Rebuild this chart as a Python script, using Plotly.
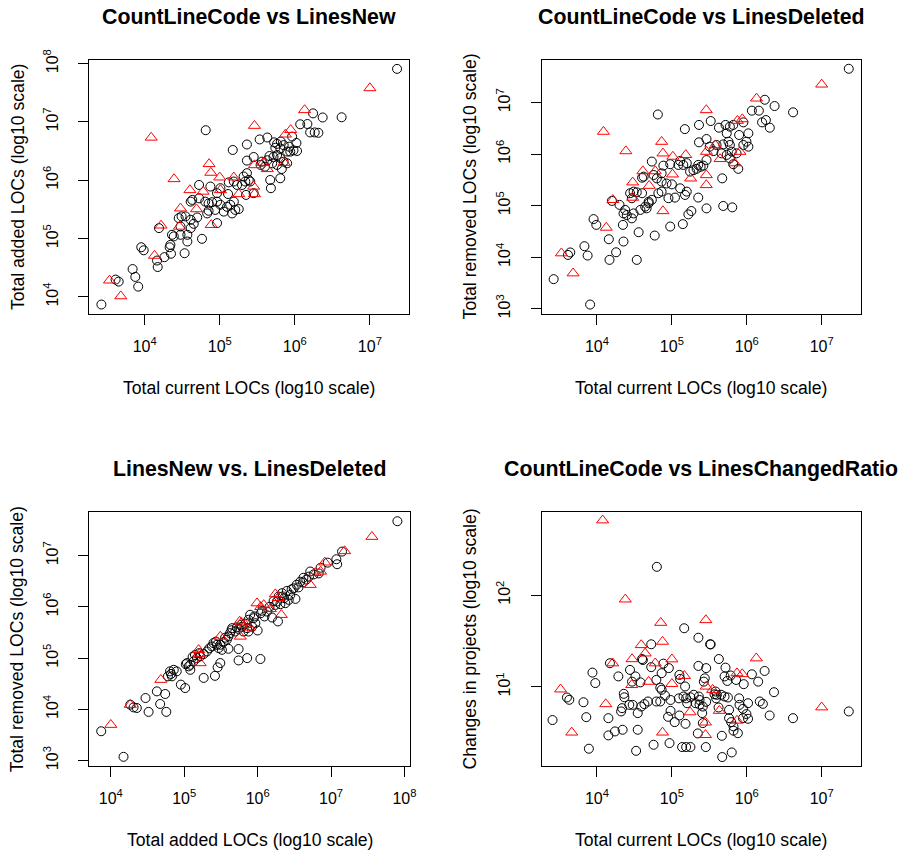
import plotly.graph_objects as go

W, H = 906, 857
FONT = "Liberation Sans, Arial, Helvetica, sans-serif"

titles = ["CountLineCode vs LinesNew", "CountLineCode vs LinesDeleted",
          "LinesNew vs. LinesDeleted", "CountLineCode vs LinesChangedRatio"]
x_labels = ["Total current LOCs (log10 scale)", "Total current LOCs (log10 scale)",
            "Total added LOCs (log10 scale)", "Total current LOCs (log10 scale)"]
y_labels = ["Total added LOCs (log10 scale)", "Total removed LOCs (log10 scale)",
            "Total removed LOCs (log10 scale)", "Changes in projects (log10 scale)"]
x_tick_exp = [[4, 5, 6, 7], [4, 5, 6, 7], [4, 5, 6, 7, 8], [4, 5, 6, 7]]
y_tick_exp = [[4, 5, 6, 7, 8], [3, 4, 5, 6, 7], [3, 4, 5, 6, 7], [1, 2]]

# ---------- Panel 1: CountLineCode vs LinesNew ----------
p1_black_x = [2.3e7, 4.2e6, 2.35e6, 1.75e6, 1.18e6, 1.47e6, 1.6e6, 1.84e6, 2.06e6, 9.2e5,
              4.3e5, 3.4e5, 2.3e5, 1.49e5, 6.5e4, 1.05e6, 8.4e5, 9.6e5, 1.07e6, 8.7e5,
              5.3e5, 5.8e5, 6.5e5, 7.1e5, 5.5e5, 6.4e5, 7.9e5, 2.83e5, 2.3e5, 3.65e5,
              4.3e5, 4.6e5, 5.2e5, 5.8e5, 6.4e5, 7.1e5, 5.0e5, 5.8e5, 6.7e5, 7.9e5,
              3.5e5, 4.0e5, 4.7e5, 4.8e5, 6.4e5, 2.3e5, 2.08e5, 2.43e5, 2.19e5, 2.55e5,
              1.98e5, 1.54e5, 1.32e5, 1.7e5, 2.24e5, 2.83e5, 5.3e4, 7.5e4, 1.02e5, 1.29e5,
              9.2e4, 4.3e4, 4.1e4, 5.3e4, 6.4e4, 7.1e4, 7.9e4, 9.2e4, 1.02e5, 1.25e5,
              1.38e5, 1.54e5, 1.61e5, 1.79e5, 1.46e5, 1.13e5, 8.7e4, 7.1e4, 6.8e4, 9.2e4,
              3.1e4, 2.84e4, 3.5e4, 4.1e4, 5.0e4, 4.5e4, 3.0e4, 4.1e4, 1.55e4, 2.31e4,
              2.44e4, 3.0e4, 3.7e4, 3.7e4, 5.8e4, 2.2e4, 2.15e4, 2.24e4, 3.4e4, 9.0e3,
              9.7e3, 1.83e4, 1.46e4, 1.49e4, 6.9e3, 7.5e3, 8.2e3, 4.1e3, 4.5e3, 2.65e3]
p1_black_y = [8.1e7, 1.2e7, 1.19e7, 1.4e7, 9.1e6, 9.2e6, 6.6e6, 6.6e6, 6.5e6, 5.6e6,
              5.4e6, 5.0e6, 4.1e6, 3.3e6, 7.2e6, 4.35e6, 3.76e6, 3.25e6, 3.17e6, 3.09e6,
              4.46e6, 4.2e6, 4.6e6, 4.0e6, 3.6e6, 3.5e6, 3.1e6, 2.5e6, 2.17e6, 2.08e6,
              2.2e6, 2.6e6, 2.5e6, 2.7e6, 2.4e6, 2.08e6, 1.95e6, 1.83e6, 1.56e6, 1.95e6,
              1.83e6, 1.71e6, 1.01e6, 7.3e5, 1.08e6, 1.32e6, 1.16e6, 1.01e6, 9.5e5, 9.5e5,
              8.3e5, 9.5e5, 9.2e5, 8.3e5, 5.6e5, 6.0e5, 8.3e5, 7.8e5, 7.3e5, 5.8e5,
              6.0e5, 4.6e5, 4.3e5, 4.9e5, 4.3e5, 4.0e5, 4.2e5, 4.3e5, 3.8e5, 3.5e5,
              3.8e5, 4.3e5, 3.1e5, 3.2e5, 2.7e5, 2.9e5, 3.1e5, 3.0e5, 2.7e5, 1.84e5,
              2.4e5, 2.24e5, 2.4e5, 2.1e5, 2.3e5, 1.79e5, 1.61e5, 1.51e5, 1.51e5, 1.16e5,
              1.09e5, 1.16e5, 1.16e5, 8.9e4, 9.9e4, 7.8e4, 7.1e4, 5.5e4, 5.6e4, 7.1e4,
              6.3e4, 4.8e4, 4.2e4, 3.25e4, 3.0e4, 2.2e4, 1.5e4, 1.98e4, 1.83e4, 7.4e3]
p1_red_x = [1.0e7, 1.35e6, 2.9e5, 8.8e5, 7.5e5, 1.22e4, 7.2e4, 7.6e4, 2.46e4, 1.0e5,
            1.54e5, 1.02e5, 4.0e4, 6.0e4, 1.79e5, 2.83e5, 2.9e5, 2.9e5, 3.8e5, 4.3e5,
            7.2e5, 3.0e4, 4.9e4, 7.7e4, 2.9e4, 1.65e4, 1.35e4, 3.4e3, 4.8e3]
p1_red_y = [3.8e7, 1.6e7, 8.6e6, 7.3e6, 6.1e6, 5.4e6, 1.9e6, 1.35e6, 1.05e6, 1.12e6,
            1.12e6, 6.8e5, 6.8e5, 6.4e5, 5.8e5, 7.8e5, 5.8e5, 1.82e6, 2.0e6, 1.56e6,
            2.0e6, 3.3e5, 3.2e5, 1.72e5, 1.61e5, 1.68e5, 5.1e4, 1.92e4, 1.03e4]

# ---------- Panel 2: CountLineCode vs LinesDeleted ----------
p2_black_x = [2.3e7, 4.15e6, 2.35e6, 1.74e6, 1.17e6, 1.45e6, 1.6e6, 1.8e6, 2.03e6, 6.5e4,
              1.49e5, 2.3e5, 3.3e5, 4.25e5, 5.2e5, 5.95e5, 6.6e5, 9.0e5, 5.4e5, 7.9e5,
              1.05e6, 9.9e5, 9.0e5, 1.05e6, 5.7e5, 5.95e5, 4.85e5, 3.95e5, 3.2e5, 2.9e5,
              2.3e5, 3.6e5, 4.6e5, 5.4e5, 6.3e5, 7.3e5, 5.95e5, 6.6e5, 7.7e5, 2.9e5,
              4.7e5, 4.85e5, 6.4e5, 2.9e5, 2.25e5, 2.25e5, 2.42e5, 2.14e5, 1.94e5, 2.63e5,
              1.75e5, 1.58e5, 1.42e5, 1.29e5, 1.22e5, 9.5e4, 7.7e4, 5.4e4, 4.2e4, 4.0e4,
              5.7e4, 7.3e4, 6.3e4, 7.3e4, 8.5e4, 1.0e5, 1.29e5, 1.5e5, 1.58e5, 1.1e5,
              9.0e4, 7.3e4, 6.6e4, 5.4e4, 4.9e4, 3.08e4, 3.4e4, 2.77e4, 4.0e4, 2.92e4,
              4.4e4, 4.9e4, 3.8e4, 4.6e4, 2.38e4, 2.26e4, 2.5e4, 2.92e4, 3.08e4, 2.0e4,
              1.58e4, 2.22e4, 9.0e3, 9.8e3, 3.6e4, 5.9e4, 9.5e4, 1.4e5, 1.66e5, 1.82e5,
              1.44e4, 2.26e4, 1.8e4, 1.47e4, 3.4e4, 6.8e3, 7.5e3, 4.4e3, 4.1e3, 2.64e3,
              8.1e3]
p2_black_y = [4.55e7, 6.5e6, 8.6e6, 1.14e7, 7.0e6, 7.0e6, 4.15e6, 4.6e6, 3.27e6, 5.9e6,
              3.07e6, 3.7e6, 4.4e6, 3.27e6, 3.7e6, 3.42e6, 3.7e6, 4.15e6, 2.54e6, 2.36e6,
              2.54e6, 1.75e6, 1.51e6, 1.4e6, 1.75e6, 1.51e6, 1.55e6, 1.51e6, 1.4e6, 1.97e6,
              1.7e6, 1.15e6, 1.04e6, 9.7e5, 1.12e6, 1.04e6, 8.3e5, 6.4e5, 5.2e5, 7.7e5,
              3.4e5, 9.9e4, 9.3e4, 8.9e4, 1.44e5, 6.2e5, 5.7e5, 5.2e5, 4.9e5, 6.0e5,
              4.6e5, 6.7e5, 6.2e5, 7.4e5, 6.2e5, 6.4e5, 6.0e5, 7.2e5, 3.67e5, 3.5e5,
              3.95e5, 4.25e5, 3.4e5, 2.94e5, 2.7e5, 2.6e5, 2.18e5, 1.62e5, 1.88e5, 1.44e5,
              1.4e5, 1.88e5, 1.75e5, 1.3e5, 1.2e5, 1.88e5, 1.82e5, 1.75e5, 1.75e5, 1.4e5,
              9.6e4, 1.12e5, 8.3e4, 8.9e4, 8.3e4, 7.1e4, 6.6e4, 5.7e4, 7.1e4, 1.04e5,
              1.24e5, 4.25e4, 5.5e4, 4.25e4, 3.06e4, 2.64e4, 3.95e4, 4.4e4, 6.8e4, 7.9e4,
              2.24e4, 2.02e4, 1.25e4, 8.9e3, 8.9e3, 1.64e4, 1.08e4, 1.24e4, 1.11e4, 3.76e3,
              1.21e3]
p2_red_x = [1.0e7, 1.35e6, 2.88e5, 7.5e5, 8.7e5, 1.22e4, 2.43e4, 7.3e4, 7.6e4, 1.03e5,
            1.53e5, 2.9e5, 3.8e5, 4.4e5, 8.1e5, 6.9e5, 4.1e4, 6.0e4, 1.02e5, 1.78e5,
            2.88e5, 2.88e5, 3.0e4, 4.98e4, 3.0e4, 1.63e4, 7.6e4, 1.33e4, 3.35e3, 4.8e3]
p2_red_y = [2.26e7, 1.21e7, 7.2e6, 4.47e6, 4.8e6, 2.74e6, 1.15e6, 1.75e6, 1.04e6, 9.0e5,
            9.7e5, 1.12e6, 1.5e6, 8.1e5, 1.12e6, 6.7e5, 4.7e5, 4.7e5, 4.07e5, 3.4e5,
            3.95e5, 2.53e5, 2.85e5, 2.45e5, 1.44e5, 1.3e5, 7.9e4, 3.77e4, 1.2e4, 4.9e3]

# ---------- Panel 3: LinesNew vs LinesDeleted ----------
p3_black_x = [8.0e7, 1.41e7, 1.21e7, 1.18e7, 9.0e6, 7.2e6, 6.8e6, 5.8e6, 5.2e6, 5.0e6,
              4.2e6, 3.8e6, 3.4e6, 3.1e6, 3.6e6, 4.15e6, 2.5e6, 2.15e6, 1.93e6, 2.3e6,
              2.65e6, 1.84e6, 2.04e6, 2.38e6, 2.79e6, 1.74e6, 3.27e6, 1.24e6, 1.57e6, 1.89e6,
              1.34e6, 1.15e6, 7.9e5, 8.8e5, 7.5e5, 9.3e5, 8.4e5, 7.2e5, 6.4e5, 7.5e5,
              6.1e5, 1.0e6, 5.5e5, 4.96e5, 4.5e5, 4.2e5, 4.0e5, 3.8e5, 3.44e5, 3.1e5,
              2.79e5, 2.5e5, 2.38e5, 2.94e5, 3.26e5, 4.0e5, 5.5e5, 5.5e5, 7.2e5, 1.09e6,
              3.1e5, 2.85e5, 2.62e5, 1.84e5, 2.04e5, 1.84e5, 1.65e5, 1.49e5, 1.34e5, 1.21e5,
              1.15e5, 1.09e5, 1.21e5, 7.2e4, 7.9e4, 6.4e4, 6.0e4, 6.8e4, 9.0e4, 1.03e5,
              4.24e4, 5.5e4, 2.97e4, 4.7e4, 5.7e4, 3.27e4, 1.84e4, 2.04e4, 2.26e4, 7.4e3,
              1.49e4, 2.2e6, 1.65e6, 2.9e6, 4.6e6, 1.45e6, 1.1e6, 9.0e5, 6.8e5, 6.0e5,
              5.2e5, 4.4e5, 3.6e5, 2.7e5, 2.2e5, 1.4e5, 1.3e5, 1.6e5, 1.05e5, 6.6e4]
p3_black_y = [4.7e7, 1.2e7, 6.8e6, 8.5e6, 7.3e6, 5.8e6, 4.5e6, 4.3e6, 4.9e6, 3.9e6,
              3.7e6, 3.1e6, 2.7e6, 2.3e6, 2.4e6, 3.0e6, 2.05e6, 1.85e6, 1.59e6, 1.48e6,
              1.37e6, 1.27e6, 1.13e6, 1.18e6, 1.71e6, 1.09e6, 1.43e6, 6.5e5, 6.2e5, 5.2e5,
              8.1e5, 8.4e5, 7.0e5, 6.0e5, 5.6e5, 4.8e5, 4.1e5, 3.84e5, 3.3e5, 3.3e5,
              4.1e5, 3.46e5, 3.7e5, 3.3e5, 3.84e5, 3.07e5, 2.64e5, 2.28e5, 2.05e5, 1.82e5,
              1.82e5, 1.96e5, 1.69e5, 1.57e5, 1.45e5, 1.52e5, 1.5e5, 9.0e4, 1.0e5, 9.6e4,
              8.0e4, 6.6e4, 4.5e4, 4.1e4, 1.35e5, 1.2e5, 1.08e5, 1.0e5, 8.6e4, 7.4e4,
              6.9e4, 8.0e4, 5.9e4, 5.9e4, 5.5e4, 5.5e4, 4.4e4, 4.4e4, 3.03e4, 2.6e4,
              2.24e4, 1.99e4, 1.66e4, 1.27e4, 8.9e3, 8.9e3, 1.23e4, 1.09e4, 1.06e4, 3.73e3,
              1.18e3, 1.6e6, 1.3e6, 2.2e6, 3.4e6, 1.0e6, 7.5e5, 6.5e5, 4.7e5, 4.5e5,
              4.0e5, 3.5e5, 2.5e5, 2.1e5, 1.55e5, 1.15e5, 1.05e5, 1.25e5, 7.6e4, 4.9e4]
p3_red_x = [3.6e7, 1.53e7, 8.2e6, 7.2e6, 5.2e6, 1.74e6, 9.8e5, 1.21e6, 1.49e6, 2.1e6,
            5.7e5, 6.8e5, 7.8e5, 5.8e5, 3.1e5, 1.57e5, 1.65e5, 4.8e4, 1.84e4, 1.0e4,
            1.1e6, 6.0e5, 1.6e5, 6.1e6, 1.9e6]
p3_red_y = [2.34e7, 1.23e7, 7.4e6, 4.9e6, 2.7e6, 1.77e6, 1.18e6, 1.09e6, 9.1e5, 7.0e5,
            5.2e5, 4.46e5, 3.96e5, 2.64e5, 2.64e5, 1.45e5, 8.0e4, 3.78e4, 1.23e4, 5.0e3,
            1.0e6, 4.9e5, 1.2e5, 4.6e6, 1.5e6]

# ---------- Panel 4: CountLineCode vs LinesChangedRatio ----------
p4_black_x = [6.3e4, 1.46e5, 2.26e5, 3.24e5, 3.3e5, 5.3e4, 4.24e5, 4.0e4, 4.1e4, 1.49e4,
              7.7e4, 5.3e4, 9.1e4, 2.26e5, 2.87e5, 5.2e5, 1.73e6, 1.17e6, 8.7e3, 9.5e3,
              2.76e4, 3.26e4, 1.93e4, 2.94e4, 3.8e4, 6.2e4, 7.3e4, 1.26e5, 1.29e5, 1.5e5,
              2.67e5, 2.75e5, 5.05e5, 6.1e5, 5.5e5, 7.2e5, 9.1e5, 1.42e6, 2.31e6, 7.0e4,
              7.3e4, 8.1e4, 2.28e4, 2.32e4, 3.97e3, 4.27e3, 6.6e3, 1.42e4, 7.2e3, 2.55e3,
              7.8e3, 1.42e4, 1.74e4, 2.2e4, 3.5e4, 3.33e4, 5.7e4, 9.3e4, 1.37e5, 1.55e5,
              1.77e5, 2.84e5, 2.22e5, 4.65e5, 4.7e5, 6.3e5, 6.65e5, 7.6e5, 6.65e5, 6.2e5,
              5.8e5, 8.9e5, 1.04e6, 9.9e5, 1.04e6, 8.9e5, 7.9e5, 5.6e5, 5.05e5, 4.55e5,
              3.99e5, 3.71e5, 3.9e5, 2.29e5, 2.34e5, 2.07e5, 2.34e5, 2.59e5, 1.96e5, 1.77e5,
              1.55e5, 1.6e5, 1.43e5, 1.24e5, 1.26e5, 1.09e5, 8.9e4, 9.6e4, 1.52e5, 2.54e5,
              2.87e5, 4.2e5, 5.8e5, 2.59e5, 9.6e4, 7.0e4, 6.2e4, 4.8e4, 4.3e4, 3.9e4,
              3.5e4, 3.0e4, 2.7e4, 2.1e4, 2.16e4, 8.0e5, 1.49e6, 1.64e6, 2.02e6, 4.14e6,
              2.3e7, 3.83e5]
p4_black_y = [203, 43.5, 34.3, 29.1, 29.0, 29.1, 20.1, 20.1, 19.6, 18.1,
              17.9, 16.4, 16.0, 16.9, 16.0, 16.2, 14.9, 13.7, 14.3, 11.0,
              15.3, 13.0, 13.0, 11.4, 11.2, 11.9, 14.1, 13.5, 12.2, 10.1,
              11.4, 12.4, 13.0, 13.3, 11.6, 11.9, 10.7, 11.4, 8.75, 9.8,
              9.3, 8.05, 8.4, 7.7, 7.66, 7.23, 6.8, 4.56, 4.68, 4.35,
              2.12, 2.96, 3.27, 3.41, 3.41, 2.01, 2.34, 2.44, 2.21, 2.21,
              2.21, 2.21, 3.11, 2.93, 1.72, 1.93, 3.33, 3.13, 3.71, 4.13,
              4.56, 4.56, 4.49, 5.05, 6.64, 5.77, 7.5, 7.66, 7.85, 8.2,
              8.2, 8.3, 7.5, 7.85, 7.2, 6.64, 6.4, 6.1, 8.2, 7.7,
              7.5, 6.64, 7.85, 7.5, 4.88, 4.13, 4.72, 5.48, 3.96, 5.18,
              6.87, 5.96, 5.62, 4.03, 7.2, 6.93, 6.93, 6.93, 6.49, 6.1,
              5.18, 6.37, 6.37, 5.4, 5.86, 6.37, 6.93, 6.53, 4.88, 4.56,
              5.4, 8.9]
p4_red_x = [1.19e4, 2.39e4, 7.1e4, 2.84e5, 7.5e4, 3.9e4, 4.4e4, 2.94e4, 1.62e4, 6.0e4,
            1.0e5, 1.34e6, 1.47e5, 7.4e5, 8.7e5, 4.9e4, 2.91e4, 1.0e5, 2.87e5, 3.5e5,
            3.27e3, 1.0e7, 1.31e4, 1.75e5, 4.3e5, 7.4e5, 2.81e5, 4.6e3, 7.5e4, 2.81e5]
p4_red_y = [653, 89.8, 50, 53.5, 31.1, 28.6, 23.2, 20.1, 18.1, 18.1,
            20.0, 20.5, 13.2, 14.1, 13.8, 11.4, 10.5, 10.8, 10.1, 9.3,
            9.4, 6.0, 6.5, 5.3, 5.5, 4.3, 4.1, 3.19, 3.19, 3.0]

panels = [
    (p1_black_x, p1_black_y, p1_red_x, p1_red_y),
    (p2_black_x, p2_black_y, p2_red_x, p2_red_y),
    (p3_black_x, p3_black_y, p3_red_x, p3_red_y),
    (p4_black_x, p4_black_y, p4_red_x, p4_red_y),
]

# ---------- layout geometry (pixels of the 906x857 page) ----------
boxes_px = [(89.3, 409.3, 59.7, 313.7), (541.7, 861.0, 59.7, 313.7),
            (89.3, 410.0, 511.7, 766.0), (541.7, 861.0, 511.7, 766.0)]
x_ranges = [(3.262, 7.525), (3.262, 7.525), (3.707, 8.075), (3.262, 7.525)]
y_ranges = [(3.712, 8.066), (2.905, 7.834), (2.893, 7.858), (0.138, 2.908)]

fig = go.Figure()
annotations = []
for i, (bx, by, rx, ry) in enumerate(panels):
    n = i + 1
    xa = "x" if n == 1 else f"x{n}"
    ya = "y" if n == 1 else f"y{n}"
    fig.add_trace(go.Scatter(x=bx, y=by, mode="markers", xaxis=xa, yaxis=ya,
                             marker=dict(symbol="circle-open", size=9, color="black",
                                         line=dict(width=1, color="black")),
                             showlegend=False, hoverinfo="skip"))
    fig.add_trace(go.Scatter(x=rx, y=ry, mode="markers", xaxis=xa, yaxis=ya,
                             marker=dict(symbol="triangle-up-open", size=10.5, color="#FF0000",
                                         line=dict(width=1, color="#FF0000")),
                             showlegend=False, hoverinfo="skip"))
    x0, x1, y0, y1 = boxes_px[i]
    common = dict(type="log", showgrid=False, zeroline=False, showline=True, mirror=True,
                  linecolor="black", linewidth=1, ticks="outside", ticklen=10,
                  tickwidth=1, tickcolor="black", automargin=False,
                  tickfont=dict(family=FONT, size=16, color="black"))
    xkey = "xaxis" if n == 1 else f"xaxis{n}"
    ykey = "yaxis" if n == 1 else f"yaxis{n}"
    fig.update_layout(**{
        xkey: dict(common, domain=[x0 / W, x1 / W], range=list(x_ranges[i]),
                   anchor=ya, tickvals=[10 ** e for e in x_tick_exp[i]],
                   ticktext=[f"10<sup>{e}</sup>" for e in x_tick_exp[i]],
                   ticklabelstandoff=8),
        ykey: dict(common, domain=[1 - y1 / H, 1 - y0 / H], range=list(y_ranges[i]),
                   anchor=xa, tickvals=[10 ** e for e in y_tick_exp[i]],
                   ticktext=[f"10<sup>{e}</sup>" for e in y_tick_exp[i]],
                   tickangle=-90, ticklabelstandoff=14),
    })
    cx = (x0 + x1) / 2
    cy = (y0 + y1) / 2
    annotations.append(dict(text=f"<b>{titles[i]}</b>", x=cx / W, y=1 - (y0 - 43) / H,
                            xref="paper", yref="paper", showarrow=False,
                            xanchor="center", yanchor="middle",
                            font=dict(family=FONT, size=21.3, color="black")))
    annotations.append(dict(text=x_labels[i], x=cx / W, y=1 - (y1 + 74) / H,
                            xref="paper", yref="paper", showarrow=False,
                            xanchor="center", yanchor="middle",
                            font=dict(family=FONT, size=17.6, color="black")))
    annotations.append(dict(text=y_labels[i], x=(x0 - 72) / W, y=1 - cy / H,
                            xref="paper", yref="paper", showarrow=False, textangle=-90,
                            xanchor="center", yanchor="middle",
                            font=dict(family=FONT, size=17.6, color="black")))

fig.update_layout(width=W, height=H, margin=dict(l=0, r=0, t=0, b=0, autoexpand=False),
                  paper_bgcolor="white", plot_bgcolor="white",
                  annotations=annotations, font=dict(family=FONT, color="black"))
fig.write_html("out.html", config={"displayModeBar": False},
               post_script="document.body.style.margin='0';document.body.style.padding='0';")
